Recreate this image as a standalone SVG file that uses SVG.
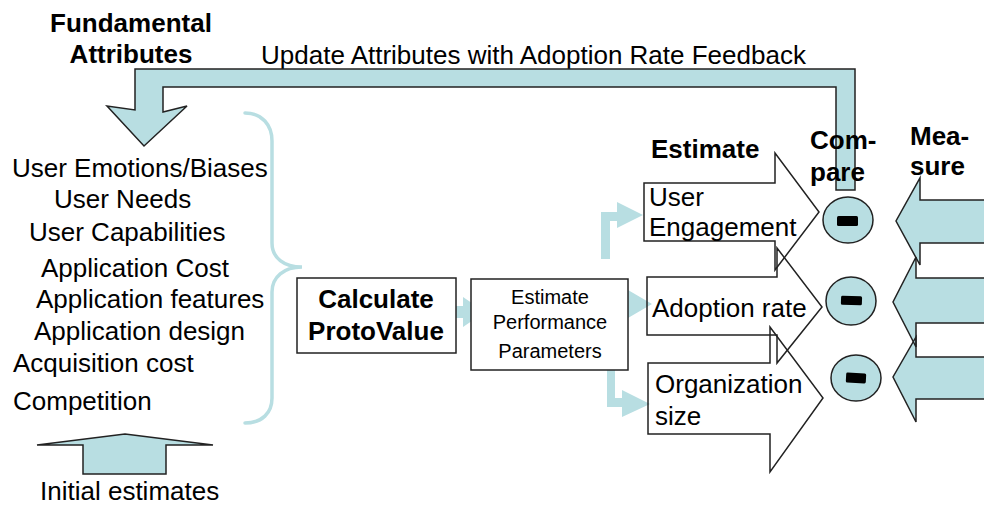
<svg xmlns="http://www.w3.org/2000/svg" width="984" height="506" viewBox="0 0 984 506">
  <style>
    text { font-family: "Liberation Sans", Arial, sans-serif; fill: #000; }
    .t26 { font-size: 26px; }
    .b26 { font-size: 26px; font-weight: bold; }
    .t20 { font-size: 20px; }
    .flow { fill: #b8dee2; stroke: none; }
    .flowo { fill: #b8dee2; stroke: #222; stroke-width: 1.5; stroke-linejoin: miter; }
    .box { fill: #fff; stroke: #222; stroke-width: 1.5; }
    .blk { fill: none; stroke: #222; stroke-width: 1.5; }
    .cmp { fill: #b8dee2; stroke: #222; stroke-width: 1.5; }
    .brace { fill: none; stroke: #b8dee2; stroke-width: 3.5; stroke-linecap: round; }
  </style>

  <!-- headings -->
  <g id="heading-attributes">
    <text class="b26" x="131" y="32" text-anchor="middle">Fundamental</text>
    <text class="b26" x="131" y="63" text-anchor="middle">Attributes</text>
  </g>
  <g id="heading-feedback">
    <text class="t26" x="261" y="64">Update Attributes with Adoption Rate Feedback</text>
  </g>

  <!-- attribute list -->
  <g id="attributes">
    <text class="t26" x="12" y="177">User Emotions/Biases</text>
    <text class="t26" x="54" y="208">User Needs</text>
    <text class="t26" x="29" y="241">User Capabilities</text>
    <text class="t26" x="41" y="277">Application Cost</text>
    <text class="t26" x="36" y="308">Application features</text>
    <text class="t26" x="34" y="340">Application design</text>
    <text class="t26" x="13" y="372">Acquisition cost</text>
    <text class="t26" x="13" y="410">Competition</text>
  </g>

  <g id="connectors">
    <!-- feedback loop arrow -->
    <polygon class="flowo" points="855,190 855,69 135,69 135,110 107,106 144,146 187,106 163,112 163,87 836,87 836,190"/>
    <!-- brace gathering the attributes -->
    <path class="brace" d="M245,113 C262,113 272,125 272,141 L272,243 C272,258 284,267 302,267 C284,267 272,277 272,292 L272,398 C272,413 262,423 245,423"/>
    <!-- initial estimates arrow -->
    <polygon class="flowo" points="37,445 125,434 213,445 166,445 166,474 83,474 83,445"/>
    <!-- calculate -> estimate -->
    <polygon class="flow" points="446,306 463,306 463,297 485,312 463,327 463,318 446,318"/>
    <!-- estimate -> user engagement -->
    <polygon class="flow" points="601,259 601,212 617,212 617,202 643,215 617,228 617,221 610,221 610,259"/>
    <!-- estimate -> adoption rate -->
    <polygon class="flow" points="617,298 628,298 628,290 652,304 628,318 628,308 617,308"/>
    <!-- estimate -> organization size -->
    <polygon class="flow" points="607,370 615,370 615,398 622,398 622,390 650,404 622,417 622,407 607,407"/>
  </g>

  <g id="initial-estimates">
    <text class="t26" x="40" y="500">Initial estimates</text>
  </g>

  <g id="calculate-protovalue">
    <rect class="box" x="297" y="278" width="159" height="75"/>
    <text class="b26" x="376" y="308" text-anchor="middle">Calculate</text>
    <text class="b26" x="376" y="340" text-anchor="middle">ProtoValue</text>
  </g>

  <g id="estimate-performance">
    <rect class="box" x="471" y="279" width="157" height="91"/>
    <text class="t20" x="550" y="304" text-anchor="middle">Estimate</text>
    <text class="t20" x="550" y="329" text-anchor="middle">Performance</text>
    <text class="t20" x="550" y="358" text-anchor="middle">Parameters</text>
  </g>

  <g id="heading-estimate">
    <text class="b26" x="651" y="158">Estimate</text>
  </g>

  <g id="user-engagement">
    <polygon class="blk" points="644,183 775,183 775,153 819,212 775,270 775,241 644,241"/>
    <text class="t26" x="649" y="206">User</text>
    <text class="t26" x="649" y="236">Engagement</text>
  </g>

  <g id="adoption-rate">
    <polygon class="blk" points="647,277 777,277 777,248 822,307 777,363 777,335 647,335"/>
    <text class="t26" x="652" y="317">Adoption rate</text>
  </g>

  <g id="organization-size">
    <polygon class="blk" points="648,363 770,363 770,327 823,398 770,472 770,434 648,434"/>
    <text class="t26" x="655" y="393">Organization</text>
    <text class="t26" x="655" y="425">size</text>
  </g>

  <g id="heading-compare">
    <text class="b26" x="810" y="149">Com-</text>
    <text class="b26" x="810" y="181">pare</text>
  </g>

  <g id="heading-measure">
    <text class="b26" x="910" y="145">Mea-</text>
    <text class="b26" x="910" y="175">sure</text>
  </g>

  <!-- comparators -->
  <g id="compare-1">
    <ellipse class="cmp" cx="848" cy="220" rx="25" ry="23"/>
    <rect x="837" y="216" width="21" height="10" rx="1.5" fill="#000"/>
  </g>
  <g id="compare-2">
    <ellipse class="cmp" cx="851" cy="301" rx="25" ry="24"/>
    <rect x="841" y="296" width="21" height="9" rx="1.5" fill="#000" transform="rotate(2 851 300)"/>
  </g>
  <g id="compare-3">
    <ellipse class="cmp" cx="856" cy="378" rx="25" ry="23"/>
    <rect x="846" y="373" width="20" height="10" rx="1.5" fill="#000" transform="rotate(3 856 378)"/>
  </g>

  <!-- measured values entering from the right -->
  <g id="measure-arrows">
    <polygon class="flow" points="990,200 920,200 920,178 896,221 920,265 920,243 990,243"/>
    <polygon class="flow" points="990,278 916,278 916,257 893,302 916,347 916,323 990,323"/>
    <polygon class="flow" points="990,357 916,357 916,337 893,377 916,422 916,399 990,399"/>
    <polygon class="blk" points="990,200 920,200 920,178 896,221 920,265 920,243 990,243"/>
    <polygon class="blk" points="990,278 916,278 916,257 893,302 916,347 916,323 990,323"/>
    <polygon class="blk" points="990,357 916,357 916,337 893,377 916,422 916,399 990,399"/>
  </g>
</svg>
